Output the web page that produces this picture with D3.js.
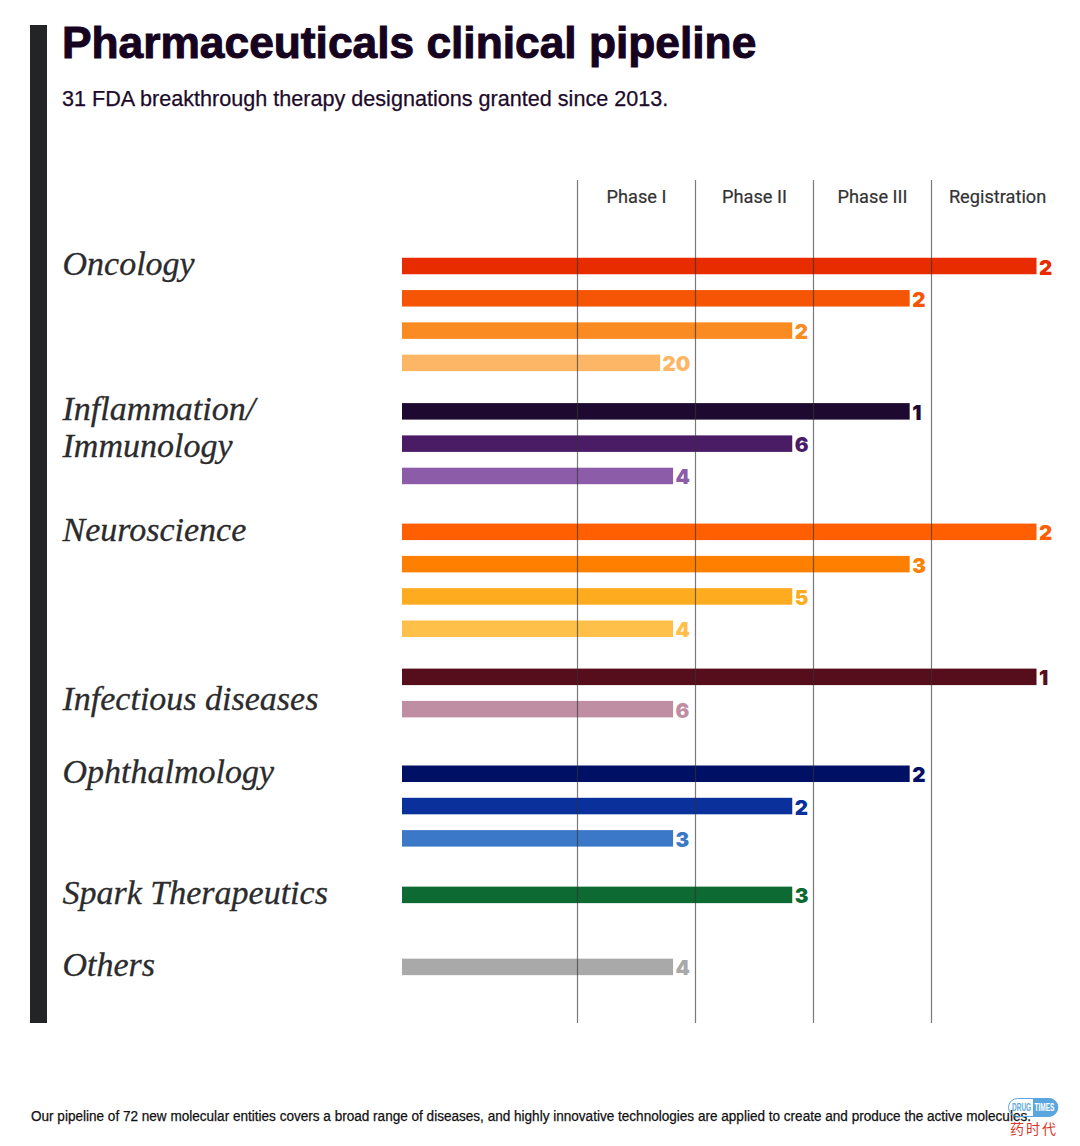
<!DOCTYPE html>
<html>
<head>
<meta charset="utf-8">
<script src="https://cdn.jsdelivr.net/npm/d3@7"></script>
<style>
  html, body { margin: 0; padding: 0; background: #fff; }
  svg { display: block; }
</style>
</head>
<body>
<div id="chart"></div>
<script>
// areas and how many programs sit at each bar
const areas = ["Oncology", "Inflammation/\nImmunology", "Neuroscience", "Infectious diseases", "Ophthalmology", "Spark Therapeutics", "Others"];
const areaOfBar = [0, 0, 0, 0, 1, 1, 1, 2, 2, 2, 2, 3, 3, 4, 4, 4, 5, 6];
// how far each bar reaches, in phases (0 = start of Phase I)
const progress = [3.89, 2.815, 1.82, 0.7, 2.815, 1.82, 0.81, 3.89, 2.815, 1.82, 0.81, 3.89, 0.81, 2.815, 1.82, 0.81, 1.82, 0.81];
const counts = [2, 2, 2, 20, 1, 6, 4, 2, 3, 5, 4, 1, 6, 2, 2, 3, 3, 4];
const phases = ["Phase I", "Phase II", "Phase III", "Registration"];

const barColors = ["#e92c00", "#f55505", "#fa8a22", "#fdb665", "#1e0a30", "#4b1c66", "#8c5ca8", "#ff5f00", "#ff8000", "#ffab20", "#ffc04a", "#560d1c", "#c08ea3", "#001165", "#0a309c", "#3b78c8", "#0d6a33", "#a9a9a9"];

const W = 1080, H = 1146;
const ROW = 32.3;
// extra space above each area's first bar, in rows
const areaGap = [0, 0.5, 0.73, 0.49, 1, 0.75, 1.23];
// which bar of the area its label lines up with
const labelBar = [0, 0, 0, 0.75, 0, 0, 0];
const phaseLabelAt = [0.5, 1.5, 2.5, 3.56];

const svg = d3.select("#chart").append("svg")
  .attr("width", W)
  .attr("height", H);

const x = d3.scaleLinear().domain([0, 1]).range([577.5, 695.5]);
const y = d3.scaleLinear().domain([0, 1]).range([266, 266 + ROW]);

// row slot of each bar, with the gaps between the areas added in
let slot = -1;
const slots = areaOfBar.map((a, i) => {
  slot += 1;
  if (i > 0 && a !== areaOfBar[i - 1]) slot += areaGap[a];
  return slot;
});

const bars = progress.map((p, i) => ({ p, count: counts[i], slot: slots[i], color: barColors[i] }));

// left rule
svg.append("rect")
  .attr("x", 30).attr("y", 25)
  .attr("width", 17).attr("height", 998)
  .attr("fill", "#232425");

svg.append("text")
  .attr("x", 62).attr("y", 58)
  .attr("font-family", "Liberation Sans")
  .attr("font-weight", 700)
  .attr("font-size", 44.3)
  .attr("fill", "#16031f")
  .attr("stroke", "#16031f")
  .attr("stroke-width", 1)
  .text("Pharmaceuticals clinical pipeline");

svg.append("text")
  .attr("x", 62).attr("y", 106)
  .attr("font-family", "Liberation Sans")
  .attr("font-size", 21.6)
  .attr("fill", "#1d0a2b")
  .attr("stroke", "#1d0a2b")
  .attr("stroke-width", 0.25)
  .text("31 FDA breakthrough therapy designations granted since 2013.");

// bars first, the phase lines run over them
svg.append("g").selectAll("rect")
  .data(bars)
  .enter().append("rect")
  .attr("x", 402)
  .attr("y", d => y(d.slot) - 8.25)
  .attr("width", d => x(d.p) - 402)
  .attr("height", 16.5)
  .attr("fill", d => d.color);

const xAxisCall = d3.axisTop(x)
  .tickValues(d3.range(phases.length))
  .tickSize(-843)
  .tickFormat("")
  .offset(0);
const gridG = svg.append("g")
  .attr("class", "x axis")
  .attr("transform", "translate(0, 180)")
  .call(xAxisCall);
gridG.select(".domain").remove();
gridG.selectAll("line")
  .attr("stroke", "#333")
  .attr("stroke-opacity", 0.65)
  .attr("stroke-width", 1.2);

svg.append("g").selectAll("text")
  .data(phases)
  .enter().append("text")
  .attr("x", (d, i) => x(phaseLabelAt[i]))
  .attr("y", 203)
  .attr("text-anchor", "middle")
  .attr("font-family", "Roboto")
  .attr("font-size", 18.2)
  .attr("fill", "#333")
  .attr("stroke", "#333")
  .attr("stroke-width", 0.2)
  .text(d => d);

// value labels
svg.append("g").selectAll("text")
  .data(bars)
  .enter().append("text")
  .attr("x", d => x(d.p) + 2.5)
  .attr("y", d => y(d.slot) + 8.5)
  .attr("font-family", "Inter")
  .attr("font-weight", 900)
  .attr("font-size", 20.5)
  .attr("fill", d => d.color)
  .text(d => d.count);

// area labels
areas.forEach((name, a) => {
  const first = slots[areaOfBar.indexOf(a)] + labelBar[a];
  const label = svg.append("text")
    .attr("font-family", "Liberation Serif")
    .attr("font-style", "italic")
    .attr("font-size", 34)
    .attr("fill", "#2b2b2d")
    .attr("stroke", "#2b2b2d")
    .attr("stroke-width", 0.3);
  name.split("\n").forEach((line, i) => {
    label.append("tspan")
      .attr("x", 62.5)
      .attr("y", y(first) + 9 + i * 37)
      .text(line);
  });
});

svg.append("text")
  .attr("x", 31).attr("y", 1121)
  .attr("font-family", "Liberation Sans")
  .attr("font-size", 14)
  .attr("textLength", 1000)
  .attr("lengthAdjust", "spacingAndGlyphs")
  .attr("fill", "#111")
  .attr("stroke", "#111")
  .attr("stroke-width", 0.25)
  .text("Our pipeline of 72 new molecular entities covers a broad range of diseases, and highly innovative technologies are applied to create and produce the active molecules.");

// watermark
const logo = svg.append("g");
logo.append("rect")
  .attr("x", 1008.5).attr("y", 1098.5)
  .attr("width", 49).attr("height", 18).attr("rx", 9)
  .attr("fill", "none").attr("stroke", "#5aa7e0").attr("stroke-width", 1);
logo.append("path")
  .attr("d", "M1033 1098h16a9 9 0 0 1 0 18.5h-16z")
  .attr("fill", "#5aa7e0");
logo.append("text")
  .attr("transform", "translate(1012, 1111) scale(0.62, 1)")
  .attr("font-family", "Liberation Sans").attr("font-weight", 700)
  .attr("font-size", 10.5)
  .attr("fill", "#5aa7e0")
  .text("DRUG");
logo.append("text")
  .attr("transform", "translate(1034.5, 1111) scale(0.62, 1)")
  .attr("font-family", "Liberation Sans").attr("font-weight", 700)
  .attr("font-size", 10.5)
  .attr("fill", "#fff")
  .text("TIMES");
logo.append("text")
  .attr("x", 1010).attr("y", 1134)
  .attr("font-family", "Noto Sans CJK SC")
  .attr("font-size", 14)
  .attr("letter-spacing", 2)
  .attr("fill", "#d9392b")
  .text("药时代");
</script>
</body>
</html>
